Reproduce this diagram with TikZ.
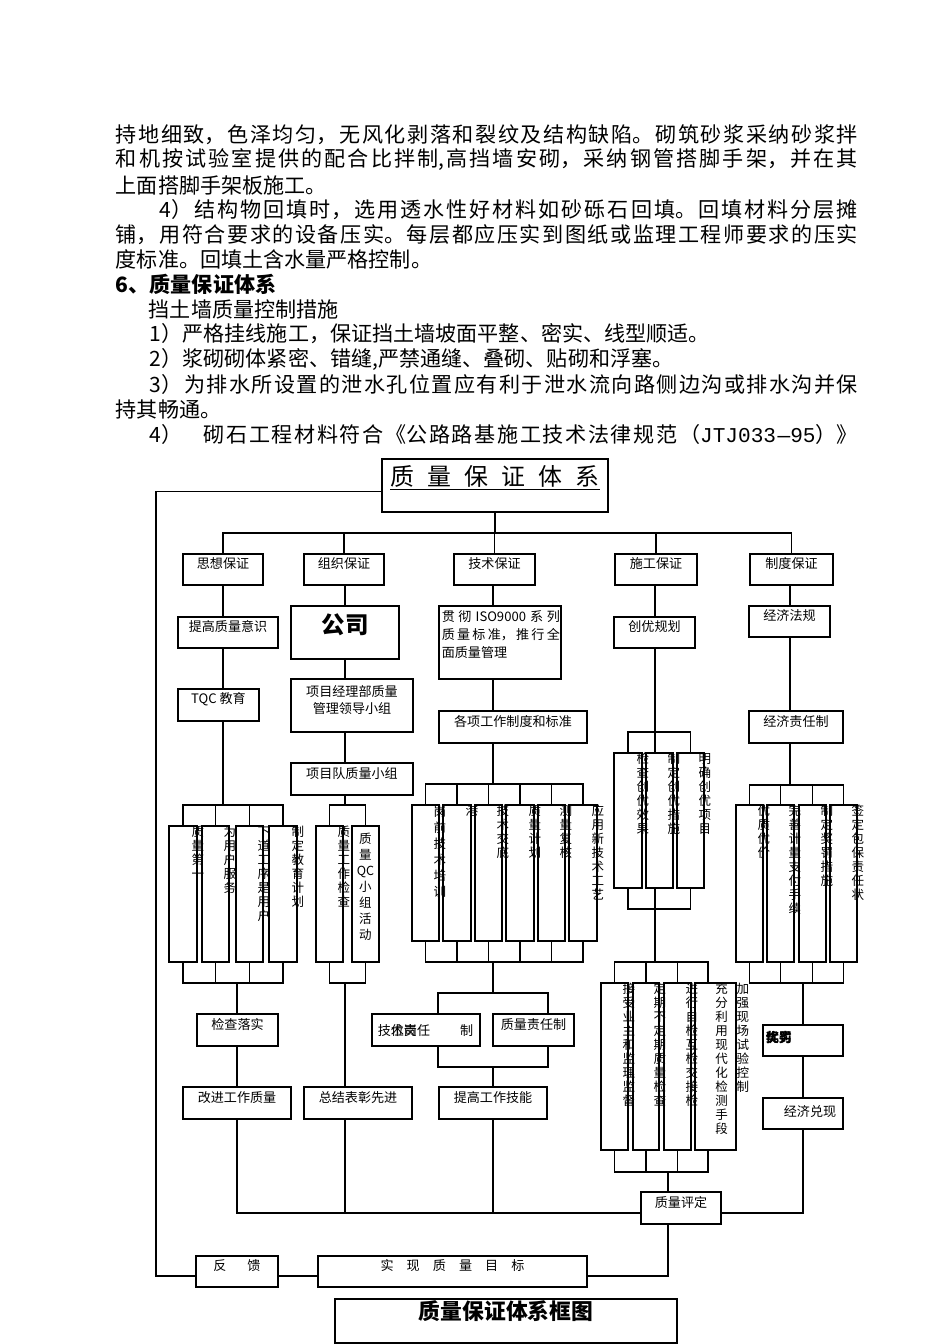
\documentclass[tikz,border=0pt]{standalone}
\usepackage{fontspec}
\setmainfont{Noto Sans CJK SC}
\newfontfamily\monofont{Liberation Mono}
\usetikzlibrary{positioning,calc,fit}
\XeTeXlinebreaklocale "zh"
\XeTeXlinebreakskip=0pt plus 3pt
\newlength\px
\setlength\px{0.25mm}
\newcommand{\fline}[2]{\parbox{#1\px}{\parfillskip=0pt\relax #2}}
\newcommand{\bodyfont}{\fontsize{15}{18}\selectfont}
\newcommand{\boxfont}{\fontsize{9.3}{11.5}\selectfont}
\newcommand{\colfont}{\fontsize{8.9}{9.96}\selectfont}
% column text: one glyph a row, fixed pitch (in px)
\newlength\vpitch
\def\vtstop{}
\def\vtloop#1{\ifx#1\vtstop\else
  \hbox to 1em{\hss\rule[-0.28\vpitch]{0pt}{\vpitch}\smash{#1}\hss}%
  \expandafter\vtloop\fi}
\newcommand{\vt}[2][14]{\setlength\vpitch{#1\px}\vbox{\offinterlineskip\vtloop#2\vtstop}}

\begin{document}
\begin{tikzpicture}[x=0.25mm,y=-0.25mm,line width=1.2pt,
box/.style={draw,inner sep=0pt,font=\boxfont,align=center},
col/.style={inner sep=0pt,anchor=north,font=\colfont},
txt/.style={inner sep=0pt,anchor=west,font=\bodyfont}]

\useasboundingbox (0,0) rectangle (950,1344);

% text above the chart
\node[txt] (p1) at (115,135) {\fline{742}{持地细致，色泽均匀，无风化剥落和裂纹及结构缺陷。砌筑砂浆采纳砂浆拌}};
\node[txt] (p2) at (115,160) {\fline{742}{和机按试验室提供的配合比拌制,高挡墙安砌，采纳钢管搭脚手架，并在其}};
\node[txt] (p3) at (115,185) {上面搭脚手架板施工。};
\node[txt] (p4) at (159,210) {\fline{698}{4）结构物回填时，选用透水性好材料如砂砾石回填。回填材料分层摊}};
\node[txt] (p5) at (115,235) {\fline{742}{铺，用符合要求的设备压实。每层都应压实到图纸或监理工程师要求的压实}};
\node[txt] (p6) at (115,259) {度标准。回填土含水量严格控制。};
\node[txt,font=\bodyfont\bfseries] (p7) at (115,284) {6、质量保证体系};
\node[txt] (p8) at (148,309) {挡土墙质量控制措施};
\node[txt] (p9) at (149,334) {1）严格挂线施工，保证挡土墙坡面平整、密实、线型顺适。};
\node[txt] (p10) at (149,359) {2）浆砌砌体紧密、错缝,严禁通缝、叠砌、贴砌和浮塞。};
\node[txt] (p11) at (149,384) {\fline{708}{3）为排水所设置的泄水孔位置应有利于泄水流向路侧边沟或排水沟并保}};
\node[txt] (p12) at (115,409) {持其畅通。};
\node[txt] (p13) at (149,434) {\fline{708}{4）\quad 砌石工程材料符合《公路路基施工技术法律规范（{\monofont JTJ033—95}）》}};

% head and branches
\node[box,fit={(382,459) (608,512)}] (top) {};
\node[inner sep=0pt,font=\fontsize{17}{20}\selectfont] (ttl) at (495,478)
  {\underline{质\hspace{.55em}量\hspace{.55em}保\hspace{.55em}证\hspace{.55em}体\hspace{.55em}系}};
\node[box,fit={(183,554) (263,585)}] (sx) {思想保证};
\node[box,fit={(304,554) (384,585)}] (zz) {组织保证};
\node[box,fit={(454,554) (535,585)}] (js) {技术保证};
\node[box,fit={(615,554) (697,585)}] (sg) {施工保证};
\node[box,fit={(750,554) (833,585)}] (zd) {制度保证};

% 思想保证
\node[box,fit={(178,617) (278,648)}] (tgys) {提高质量意识};
\node[box,fit={(178,689) (259,721)}] (tqc) {TQC 教育};
\node[box,fit={(169,826) (197,962)}] (s1) {};
\node[box,fit={(202,826) (229,962)}] (s2) {};
\node[box,fit={(236,826) (263,962)}] (s3) {};
\node[box,fit={(269,826) (297,962)}] (s4) {};
\node[box,fit={(197,1014) (278,1046)}] (jcls) {检查落实};
\node[box,fit={(183,1087) (291,1119)}] (gjzl) {改进工作质量};

% 组织保证
\node[box,fit={(291,606) (399,659)}] (gs) {};
\node[inner sep=0pt,font=\fontsize{16.7}{20}\selectfont\bfseries] (gstx) at (345,625) {公司};
\node[box,fit={(291,679) (413,732)}] (xmb) {项目经理部质量\\管理领导小组};
\node[box,fit={(291,763) (413,795)}] (xmd) {项目队质量小组};
\node[box,fit={(316,826) (343,962)}] (z1) {};
\node[box,fit={(352,826) (379,962)}] (z2) {};
\node[box,fit={(304,1087) (412,1119)}] (zjbz) {总结表彰先进};

% 技术保证
\node[box,fit={(439,606) (561,679)}] (gc) {};
\node[inner sep=0pt,anchor=north west,font=\boxfont,text width=118\px,align=justify] (gctx) at (441,610)
  {\fontsize{9.3}{12.8}\selectfont\lineskiplimit=-20pt\relax 贯彻 ISO9000 系列\linebreak 质量标准，推行全\linebreak 面质量管理\par};
\node[box,fit={(439,711) (587,743)}] (gxzd) {各项工作制度和标准};
\node[box,fit={(412,805) (439,941)}] (j1) {};
\node[box,fit={(443,805) (471,941)}] (j2) {};
\node[box,fit={(475,805) (502,941)}] (j3) {};
\node[box,fit={(506,805) (534,941)}] (j4) {};
\node[box,fit={(538,805) (565,941)}] (j5) {};
\node[box,fit={(569,805) (597,941)}] (j6) {};
\node[box,fit={(372,1014) (480,1046)}] (gwzr) {};
\node[inner sep=0pt,anchor=west,font=\boxfont] (gwtx) at (377,1030) {技\rlap{位}术\rlap{责}岗任\hspace{2.3em}制};
\node[box,fit={(493,1014) (574,1046)}] (zlzr) {质量责任制};
\node[box,fit={(439,1087) (547,1119)}] (tgjn) {提高工作技能};

% 施工保证
\node[box,fit={(614,617) (695,648)}] (cygh) {创优规划};
\node[box,fit={(614,753) (642,888)}] (c1) {};
\node[box,fit={(646,753) (673,888)}] (c2) {};
\node[box,fit={(677,753) (704,888)}] (c3) {};
\node[box,fit={(601,983) (628,1150)}] (d1) {};
\node[box,fit={(633,983) (659,1150)}] (d2) {};
\node[box,fit={(664,983) (691,1150)}] (d3) {};
\node[box,fit={(695,983) (736,1150)}] (d4) {};
\node[box,fit={(641,1192) (721,1224)}] (zlpd) {质量评定};

% 制度保证
\node[box,fit={(749,606) (830,637)}] (jjfg) {经济法规};
\node[box,fit={(749,711) (843,743)}] (jjzr) {经济责任制};
\node[box,fit={(736,805) (763,962)}] (y1) {};
\node[box,fit={(767,805) (794,962)}] (y2) {};
\node[box,fit={(799,805) (826,962)}] (y3) {};
\node[box,fit={(830,805) (857,962)}] (y4) {};
\node[box,fit={(763,1025) (843,1056)}] (yjfl) {};
\node[inner sep=0pt,anchor=west,font=\boxfont\bfseries] (yjtx) at (765,1038) {\rlap{优}奖\rlap{罚}劣};
\node[box,fit={(763,1098) (843,1129)}] (jjdx) {};
\node[inner sep=0pt,font=\boxfont] (jjtx) at (810,1112) {经济兑现};

% bottom
\node[box,fit={(196,1256) (278,1287)}] (fk) {反\hspace{1.6em}馈};
\node[box,fit={(318,1256) (587,1287)}] (sxmb) {实\hspace{1em}现\hspace{1em}质\hspace{1em}量\hspace{1em}目\hspace{1em}标};
\node[box,fit={(335,1299) (677,1343)},font=\fontsize{15.5}{18}\selectfont\bfseries] (cap) {质量保证体系框图};

% column texts
\node[col] (st1) at (s1.north east) {\vt{质量第一}};
\node[col] (st2) at (s2.north east) {\vt{为用户服务}};
\node[col] (st3) at (s3.north east) {\vt{下道工序是用户}};
\node[col] (st4) at (s4.north east) {\vt{制定教育计划}};
\node[col] (zt1) at (z1.north east) {\vt{质量工作检查}};
\node[col] (zt2) at ($(z2.north)+(0,6)$) {\vt[16]{质量{QC}小组活动}};
\node[col] (jt1) at (j1.north east) {\vt[16]{岗前技术培训}};
\node[col] (jt2) at (j2.north east) {\vt{港}};
\node[col] (jt3) at (j3.north east) {\vt{技术交底}};
\node[col] (jt4) at (j4.north east) {\vt{质量计划}};
\node[col] (jt5) at (j5.north east) {\vt{测量复核}};
\node[col] (jt6) at (j6.north east) {\vt{应用新技术工艺}};
\node[col] (ct1) at (c1.north east) {\vt{检查创优效果}};
\node[col] (ct2) at (c2.north east) {\vt{制定创优措施}};
\node[col] (ct3) at (c3.north east) {\vt{明确创优项目}};
\node[col] (dt1) at (d1.north east) {\vt{接受业主和监理监督}};
\node[col] (dt2) at (d2.north east) {\vt{定期不定期质量检查}};
\node[col] (dt3) at (d3.north east) {\vt{进行自检互检交接检}};
\node[col] (dt4) at ($(d4.north)+(6,0)$) {\vt{充分利用现代化检测手段}};
\node[col] (dt5) at ($(d4.north east)+(6,0)$) {\vt{加强现场试验控制}};
\node[col] (yt1) at (y1.north east) {\vt{优质优价}};
\node[col] (yt2) at (y2.north east) {\vt{完善计量支付手续}};
\node[col] (yt3) at (y3.north east) {\vt{制定奖罚措施}};
\node[col] (yt4) at (y4.north east) {\vt{签定包保责任状}};

% junctions
\coordinate (hub) at (495,533);
\coordinate (lft) at (156,1276);
\coordinate (sxa) at (223,805);
\coordinate (sxb) at (237,983);
\coordinate (zza) at (345,805);
\coordinate (zzb) at (345,983);
\coordinate (jsa) at (493,784);
\coordinate (jsb) at (493,962);
\coordinate (jsc) at (493,993);
\coordinate (jsd) at (493,1067);
\coordinate (sga) at (655,732);
\coordinate (sgb) at (655,909);
\coordinate (sgc) at (655,962);
\coordinate (sgd) at (668,1172);
\coordinate (d4t) at (708,983);
\coordinate (d4b) at (708,1150);
\coordinate (zda) at (790,785);
\coordinate (zdb) at (803,983);
\coordinate (btm) at (237,1213);
\coordinate (rt) at (668,1276);

% trunk and feedback
\draw ($(top.west)+(0,6)$) -| (lft) -- (lft -| fk.west);
\draw (top.south) -- (hub);
\draw (sx.north) |- (hub) -| (zd.north);
\foreach \n in {zz,js,sg} \draw (\n.north) -- (\n.north |- hub);

% 思想保证 links
\draw (sx.south) -- (sx.south |- tgys.north);
\draw (sx.south |- tgys.south) -- (sx.south |- tqc.north);
\draw (sx.south |- tqc.south) -- (sxa);
\draw (s1.north) |- (sxa) -| (s4.north);
\foreach \n in {s2,s3} \draw (\n.north) -- (\n.north |- sxa);
\draw (s1.south) |- (sxb) -| (s4.south);
\foreach \n in {s2,s3} \draw (\n.south) -- (\n.south |- sxb);
\draw (sxb) -- (sxb |- jcls.north);
\draw (sxb |- jcls.south) -- (sxb |- gjzl.north);
\draw (sxb |- gjzl.south) -- (btm) -- (btm -| zlpd.west);

% 组织保证 links
\draw (zza |- zz.south) -- (zza |- gs.north);
\draw (zza |- gs.south) -- (zza |- xmb.north);
\draw (zza |- xmb.south) -- (zza |- xmd.north);
\draw (zza |- xmd.south) -- (zza);
\draw (z1.north) |- (zza) -| (z2.north);
\draw (z1.south) |- (zzb) -| (z2.south);
\draw (zzb) -- (zzb |- zjbz.north);
\draw (zzb |- zjbz.south) -- (zzb |- btm);

% 技术保证 links
\draw (jsa |- js.south) -- (jsa |- gc.north);
\draw (jsa |- gc.south) -- (jsa |- gxzd.north);
\draw (jsa |- gxzd.south) -- (jsa);
\draw (j1.north) |- (jsa) -| (j6.north);
\foreach \n in {j2,j3,j4,j5} \draw (\n.north) -- (\n.north |- jsa);
\draw (j1.south) |- (jsb) -| (j6.south);
\foreach \n in {j2,j3,j4,j5} \draw (\n.south) -- (\n.south |- jsb);
\draw (jsb) -- (jsc);
\draw (gwzr.north -| tgjn.west) |- (jsc) -| (zlzr.north -| tgjn.east);
\draw (gwzr.south -| tgjn.west) |- (jsd) -| (zlzr.south -| tgjn.east);
\draw (jsd) -- (tgjn.north);
\draw (tgjn.south) -- (tgjn.south |- btm);

% 施工保证 links
\draw (sga |- sg.south) -- (sga |- cygh.north);
\draw (sga |- cygh.south) -- (sga |- c2.north);
\draw (c1.north) |- (sga) -| (c3.north);
\draw (c1.south) |- (sgb) -| (c3.south);
\draw (sga |- c2.south) -- (sgc);
\draw (d1.north) |- (sgc) -| (d4t);
\foreach \n in {d2,d3} \draw (\n.north) -- (\n.north |- sgc);
\draw (d1.south) |- (sgd) -| (d4b);
\foreach \n in {d2,d3} \draw (\n.south) -- (\n.south |- sgd);
\draw (sgd) -- (sgd |- zlpd.north);
\draw (sgd |- zlpd.south) -- (rt) -- (rt -| sxmb.east);
\draw (fk.east |- rt) -- (sxmb.west |- rt);

% 制度保证 links
\draw (zda |- zd.south) -- (zda |- jjfg.north);
\draw (zda |- jjfg.south) -- (zda |- jjzr.north);
\draw (zda |- jjzr.south) -- (zda);
\draw (y1.north) |- (zda) -| (y4.north);
\foreach \n in {y2,y3} \draw (\n.north) -- (\n.north |- zda);
\draw (y1.south) |- (zdb) -| (y4.south);
\foreach \n in {y2,y3} \draw (\n.south) -- (\n.south |- zdb);
\draw (zdb) -- (zdb |- yjfl.north);
\draw (zdb |- yjfl.south) -- (zdb |- jjdx.north);
\draw (zdb |- jjdx.south) -- (zdb |- btm) -- (zlpd.east |- btm);

\end{tikzpicture}
\end{document}
